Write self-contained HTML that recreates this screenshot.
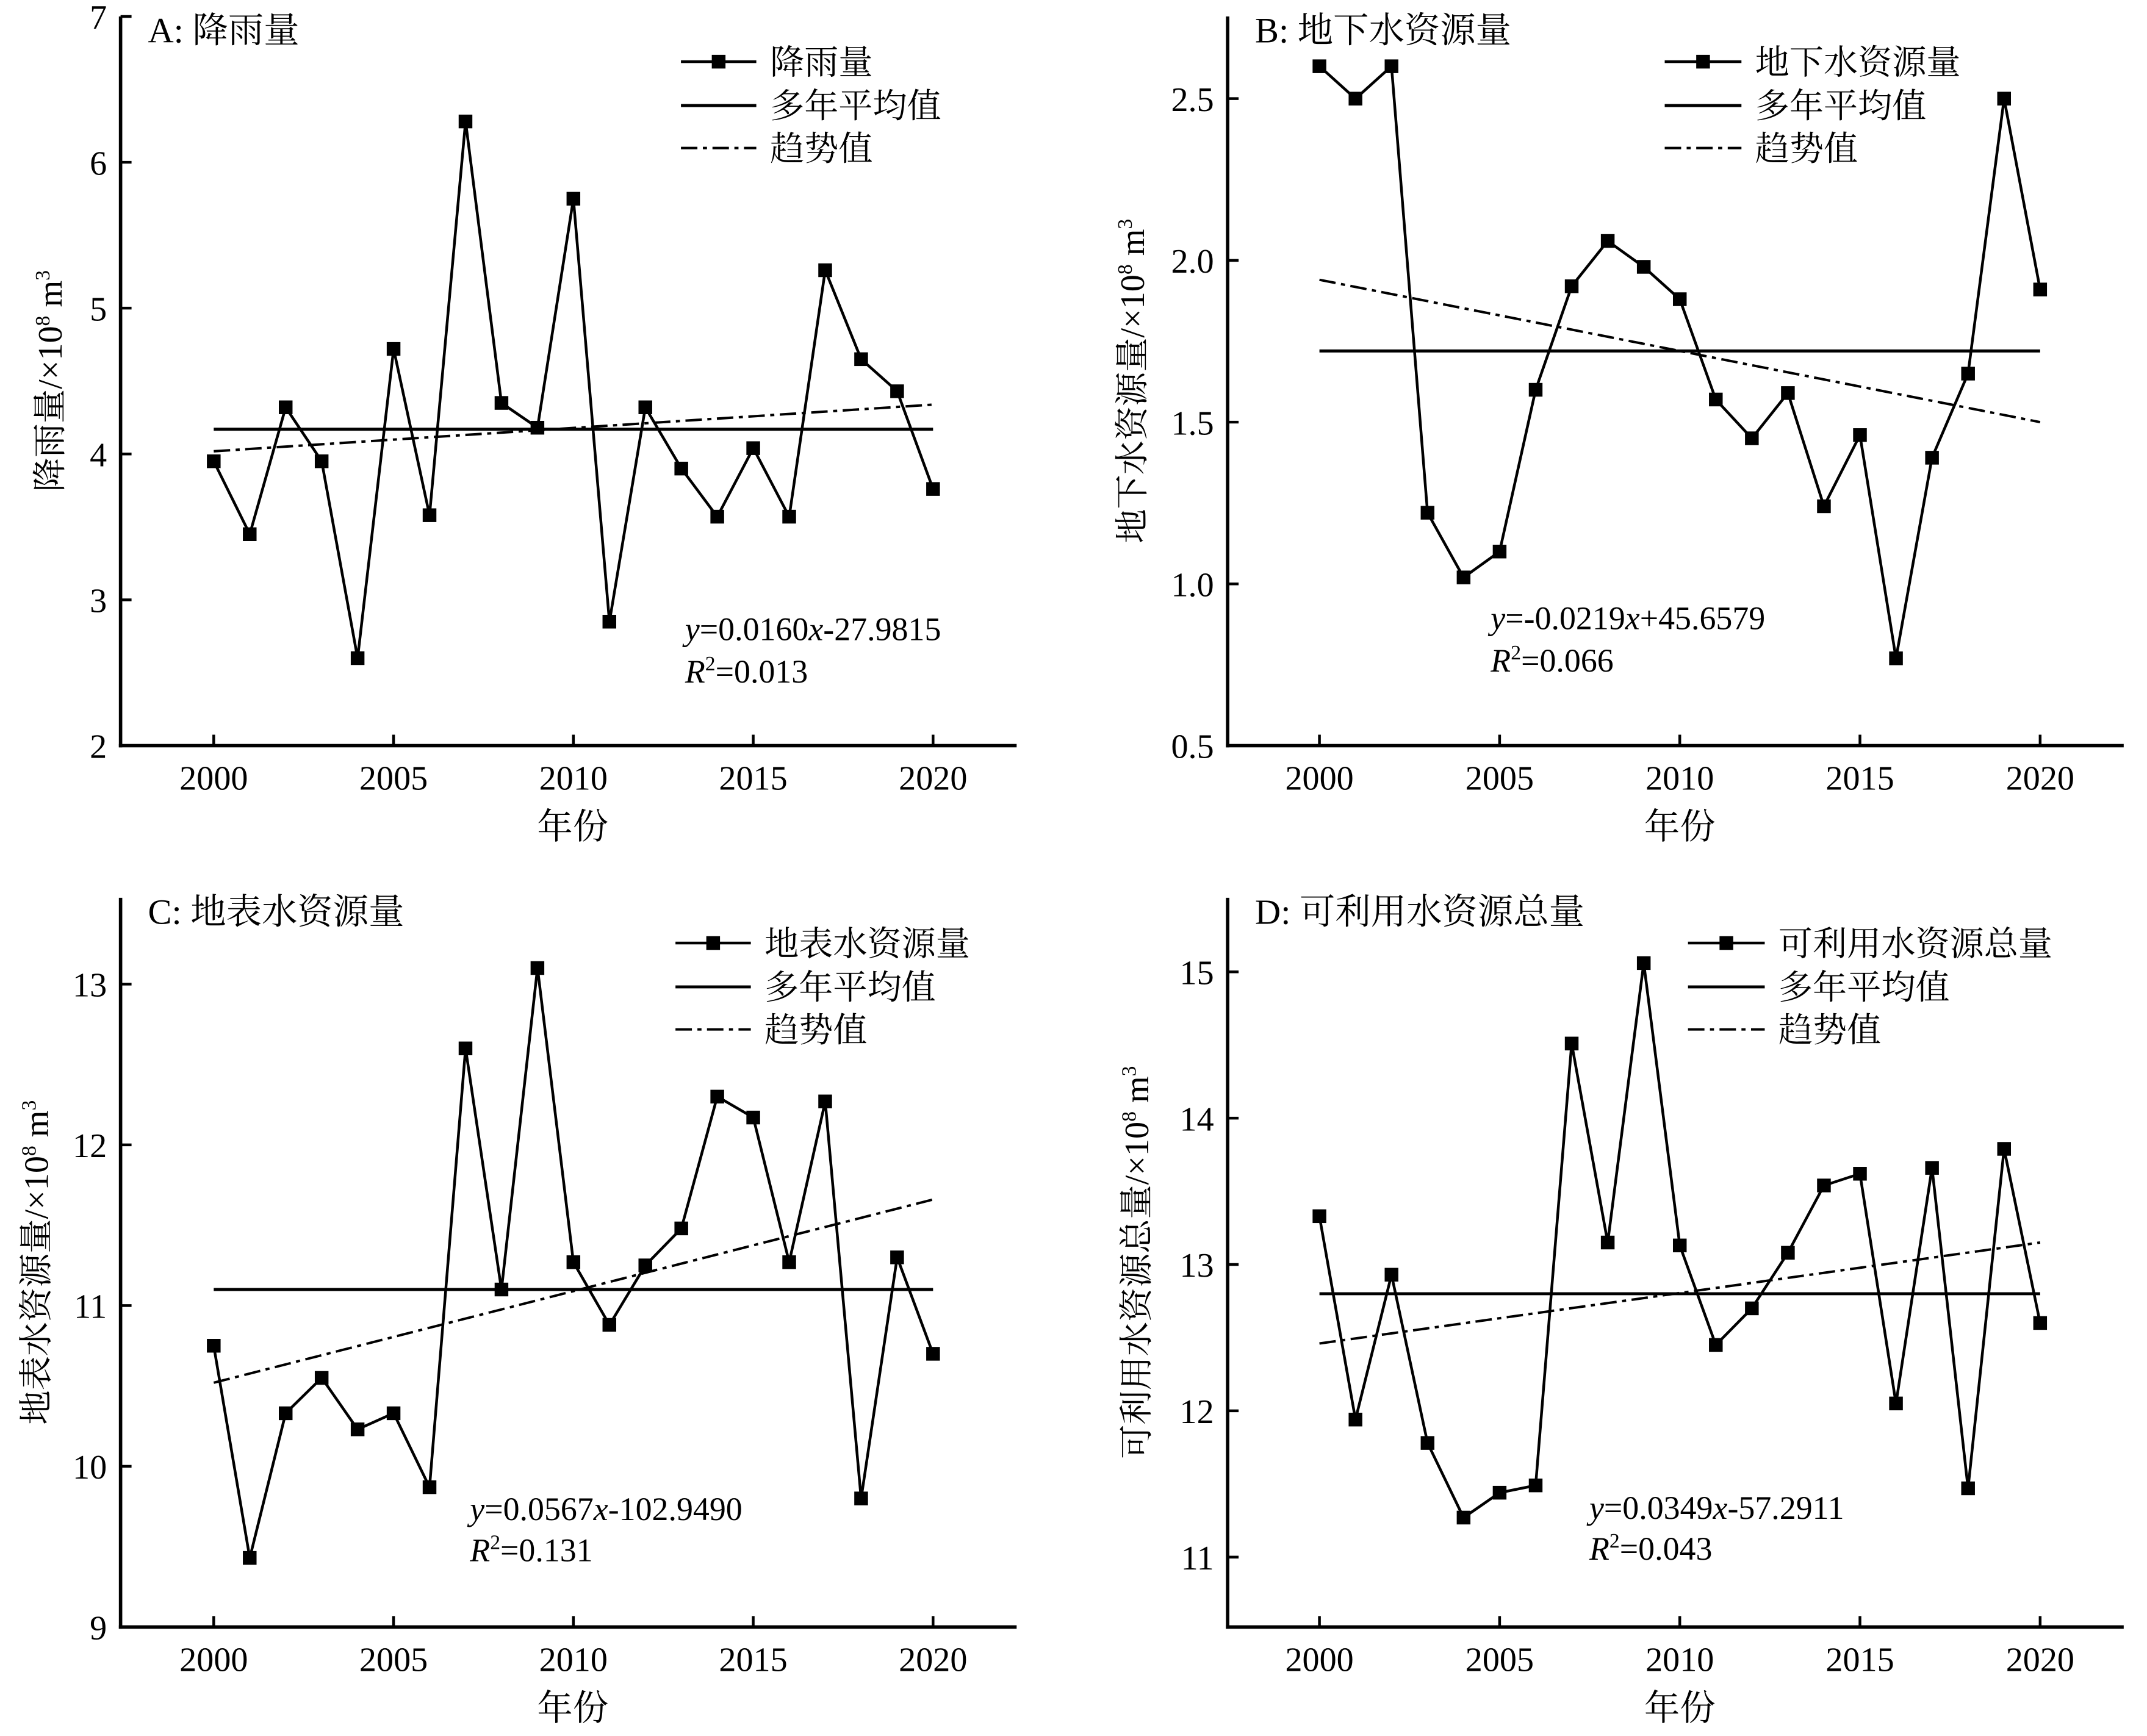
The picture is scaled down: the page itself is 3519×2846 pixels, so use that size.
<!DOCTYPE html>
<html><head><meta charset="utf-8"><style>
html,body{margin:0;padding:0;background:#fff}
svg{display:block}
text{font-family:"Liberation Serif","Noto Serif CJK SC",serif;fill:#000}
</style></head><body>
<svg id="s" width="3519" height="2846" viewBox="0 0 1567 1266.5" preserveAspectRatio="none" xmlns="http://www.w3.org/2000/svg">
<g id="g"></g>
<text x="108" y="31" font-size="26">A: 降雨量</text>
<text x="916" y="31" font-size="26">B: 地下水资源量</text>
<text x="108" y="674" font-size="26">C: 地表水资源量</text>
<text x="916" y="674" font-size="26">D: 可利用水资源总量</text>
<text x="500" y="467" font-size="24"><tspan font-style="italic">y</tspan>=0.0160<tspan font-style="italic">x</tspan>-27.9815</text>
<text x="500" y="498" font-size="24"><tspan font-style="italic">R</tspan><tspan font-size="15" dy="-9">2</tspan><tspan dy="9">=0.013</tspan></text>
<text x="1088" y="459" font-size="24"><tspan font-style="italic">y</tspan>=-0.0219<tspan font-style="italic">x</tspan>+45.6579</text>
<text x="1088" y="490" font-size="24"><tspan font-style="italic">R</tspan><tspan font-size="15" dy="-9">2</tspan><tspan dy="9">=0.066</tspan></text>
<text x="343" y="1109" font-size="24"><tspan font-style="italic">y</tspan>=0.0567<tspan font-style="italic">x</tspan>-102.9490</text>
<text x="343" y="1139" font-size="24"><tspan font-style="italic">R</tspan><tspan font-size="15" dy="-9">2</tspan><tspan dy="9">=0.131</tspan></text>
<text x="1160" y="1108" font-size="24"><tspan font-style="italic">y</tspan>=0.0349<tspan font-style="italic">x</tspan>-57.2911</text>
<text x="1160" y="1138" font-size="24"><tspan font-style="italic">R</tspan><tspan font-size="15" dy="-9">2</tspan><tspan dy="9">=0.043</tspan></text>
</svg>
<script>
var g=document.getElementById('g'),h='';
function ln(x1,y1,x2,y2,w,d){h+='<line x1="'+x1+'" y1="'+y1+'" x2="'+x2+'" y2="'+y2+'" stroke="#000" stroke-width="'+w+'"'+(d?' stroke-dasharray="'+d+'"':'')+'/>';}
function tx(x,y,s,a,fs){h+='<text x="'+x+'" y="'+y+'" font-size="'+(fs||25)+'" text-anchor="'+(a||'middle')+'">'+s+'</text>';}
var P=[
{L:88,R:742,T:12,B:544,x0:156,x1:681,ymin:2,ymax:7,ticks:[2,3,4,5,6,7],fmt:0,
 d:[3.95,3.45,4.32,3.95,2.6,4.72,3.58,6.28,4.35,4.18,5.75,2.85,4.32,3.9,3.57,4.04,3.57,5.26,4.65,4.43,3.76],mean:4.17,tr:[4.0185,4.3385],
 name:'降雨量',yl:'降雨量/×10<tspan font-size="15" dy="-9">8</tspan><tspan dy="9"> m</tspan><tspan font-size="15" dy="-9">3</tspan>',ylx:45,lx:497,ly:45},
{L:896,R:1550,T:12,B:544,x0:963,x1:1489,ymin:0.5,ymax:2.754,ticks:[0.5,1,1.5,2,2.5],fmt:1,
 d:[2.6,2.5,2.6,1.22,1.02,1.1,1.6,1.92,2.06,1.98,1.88,1.57,1.45,1.59,1.24,1.46,0.77,1.39,1.65,2.5,1.91],mean:1.72,tr:[1.94,1.50],
 name:'地下水资源量',yl:'地下水资源量/×10<tspan font-size="15" dy="-9">8</tspan><tspan dy="9"> m</tspan><tspan font-size="15" dy="-9">3</tspan>',ylx:835,lx:1215,ly:45},
{L:88,R:742,T:655,B:1187,x0:156,x1:681,ymin:9,ymax:13.537,ticks:[9,10,11,12,13],fmt:0,
 d:[10.75,9.43,10.33,10.55,10.23,10.33,9.87,12.6,11.1,13.1,11.27,10.88,11.25,11.48,12.3,12.17,11.27,12.27,9.8,11.3,10.7],mean:11.1,tr:[10.52,11.66],
 name:'地表水资源量',yl:'地表水资源量/×10<tspan font-size="15" dy="-9">8</tspan><tspan dy="9"> m</tspan><tspan font-size="15" dy="-9">3</tspan>',ylx:35,lx:493,ly:688},
{L:896,R:1550,T:655,B:1187,x0:963,x1:1489,ymin:10.522,ymax:15.506,ticks:[11,12,13,14,15],fmt:0,
 d:[13.33,11.94,12.93,11.78,11.27,11.44,11.49,14.51,13.15,15.06,13.13,12.45,12.7,13.08,13.54,13.62,12.05,13.66,11.47,13.79,12.6],mean:12.8,tr:[12.46,13.15],
 name:'可利用水资源总量',yl:'可利用水资源总量/×10<tspan font-size="15" dy="-9">8</tspan><tspan dy="9"> m</tspan><tspan font-size="15" dy="-9">3</tspan>',ylx:838,lx:1232,ly:688}
];
P.forEach(function(p){
 function X(yr){return p.x0+(yr-2000)*(p.x1-p.x0)/20;}
 function Y(v){return p.B-(v-p.ymin)*(p.B-p.T)/(p.ymax-p.ymin);}
 ln(p.L,p.T,p.L,p.B+1.25,2.5);ln(p.L-1.25,p.B,p.R,p.B,2.5);
 p.ticks.forEach(function(t){var y=Y(t);ln(p.L,y,p.L+8,y,2);tx(p.L-10,y+9,p.fmt?t.toFixed(1):t,'end');});
 [2000,2005,2010,2015,2020].forEach(function(yr){var x=X(yr);ln(x,p.B,x,p.B-8,2);tx(x,p.B+32,yr);});
 tx((p.L+p.R)/2+3, p.B+68,'年份','middle',26);
 h+='<text transform="translate('+p.ylx+','+((p.T+p.B)/2)+') rotate(-90)" font-size="25" text-anchor="middle">'+p.yl+'</text>';
 ln(X(2000),Y(p.mean),X(2020),Y(p.mean),2.2);
 ln(X(2000),Y(p.tr[0]),X(2020),Y(p.tr[1]),1.8,'12,4,3,4');
 var pts=p.d.map(function(v,i){return X(2000+i).toFixed(1)+','+Y(v).toFixed(1);}).join(' ');
 h+='<polyline points="'+pts+'" fill="none" stroke="#000" stroke-width="2"/>';
 p.d.forEach(function(v,i){h+='<rect x="'+(X(2000+i)-5)+'" y="'+(Y(v)-5)+'" width="10" height="10" fill="#000"/>';});
 var lx=p.lx,ly=p.ly,lw=(p.L<500?55:56);
 ln(lx,ly,lx+lw,ly,2);h+='<rect x="'+(lx+lw/2-5)+'" y="'+(ly-5)+'" width="10" height="10"/>';
 tx(lx+lw+10,ly+9,p.name,'start',25);
 ln(lx,ly+32,lx+lw,ly+32,2.2);tx(lx+lw+10,ly+41,'多年平均值','start',25);
 ln(lx,ly+63,lx+lw,ly+63,1.8,'12,4,3,4');tx(lx+lw+10,ly+72,'趋势值','start',25);
});
g.innerHTML=h;
</script>
</body></html>
